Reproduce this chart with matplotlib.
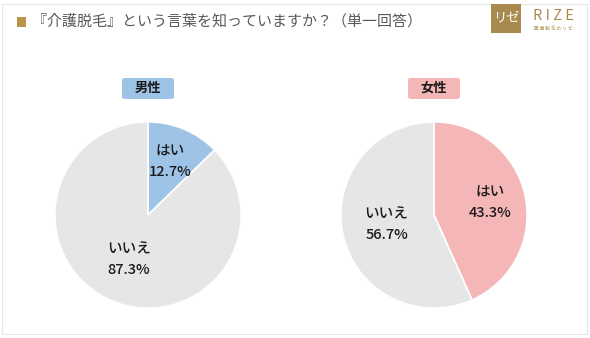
import numpy as np
import matplotlib
matplotlib.use("Agg")
import matplotlib.pyplot as plt
from matplotlib.patches import FancyBboxPatch, Rectangle

plt.rcParams['font.family'] = ['Noto Sans CJK JP', 'DejaVu Sans']

title = "『介護脱毛』という言葉を知っていますか？（単一回答）"
categories = ["はい", "いいえ"]
groups = ["男性", "女性"]
male = [12.7, 87.3]
female = [43.3, 56.7]

W, H = 590, 338
fig = plt.figure(figsize=(W / 100, H / 100), dpi=100)
fig.patch.set_facecolor("white")

def px(x, y):
    return x / W, 1 - y / H

# outer light border
fig.add_artist(Rectangle((2 / W, 4 / H), (W - 5) / W, (H - 8) / H, transform=fig.transFigure,
                         fill=False, edgecolor="#e6e6e6", lw=0.8))

# title
fig.add_artist(Rectangle((17 / W, 1 - 27 / H), 9 / W, 10 / H, transform=fig.transFigure,
                         facecolor="#b8954a", edgecolor="none"))
fig.text(*px(32, 21), title, fontsize=10.8, color="#595959", va="center", ha="left")

# logo
fig.add_artist(Rectangle((491 / W, 1 - 33 / H), 30 / W, 29 / H, transform=fig.transFigure,
                         facecolor="#a88a4e", edgecolor="none"))
fig.text(*px(506, 19), "リゼ", fontsize=9.5, color="white", ha="center", va="center")
fig.text(*px(553, 16), "R I Z E", fontsize=10.5, color="#a88a4e", ha="center", va="center")
fig.text(*px(553, 28), "医 療 脱 毛 の リ ゼ", fontsize=3.3, color="#a88a4e", ha="center", va="center")

colors_yes = ["#9dc3e6", "#f4b6b6"]
gray = "#e7e6e6"
centers = [(148, 215), (434, 215)]
R = 95
data = [male, female]

for i, (vals, grp) in enumerate(zip(data, groups)):
    cx, cy = centers[i]
    ax = fig.add_axes([(cx - R) / W, 1 - (cy + R) / H, 2 * R / W, 2 * R / H])
    wedges, _ = ax.pie(vals, colors=[colors_yes[i], gray], startangle=90, counterclock=False,
                       radius=1, wedgeprops=dict(edgecolor="white", linewidth=1.2))
    ax.set_xlim(-1.02, 1.02)
    ax.set_ylim(-1.02, 1.02)
    ax.set_aspect("equal")
    ax.axis("off")
    dists = [0.62, 0.52]
    for w, cat, v, d in zip(wedges, categories, vals, dists):
        ang = np.deg2rad((w.theta1 + w.theta2) / 2)
        ax.text(d * np.cos(ang), d * np.sin(ang), f"{cat}\n{v:.1f}%", ha="center",
                va="center", fontsize=10.5, color="#1a1a1a", linespacing=1.6, weight="medium")
    # group label box
    bx, by = px(cx - 26, 99)
    fig.add_artist(FancyBboxPatch((bx, by), 52 / W, 21 / H, transform=fig.transFigure,
                                  boxstyle="round,pad=0,rounding_size=0.006",
                                  facecolor=colors_yes[i], edgecolor="none"))
    fig.text(*px(cx, 88), grp, fontsize=9.5, color="#1a1a1a", ha="center", va="center", weight="bold")

fig.savefig("out.png", dpi=100, facecolor="white")
